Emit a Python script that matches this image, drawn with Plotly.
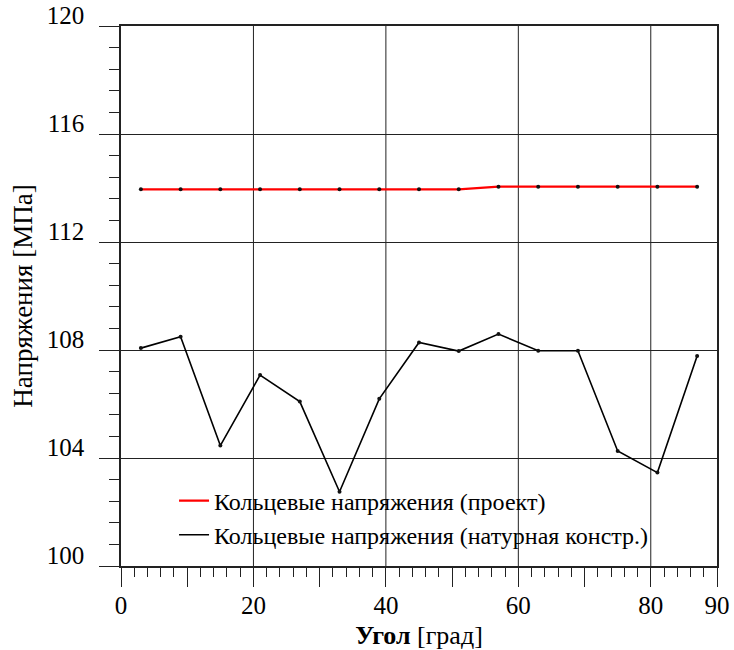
import plotly.graph_objects as go

# Angle positions, degrees
angle = [3, 9, 15, 21, 27, 33, 39, 45, 51, 57, 63, 69, 75, 81, 87]

# Hoop stress, MPa
stress_project = [113.95, 113.95, 113.95, 113.95, 113.95, 113.95, 113.95, 113.95,
                  113.95, 114.05, 114.05, 114.05, 114.05, 114.05, 114.05]
stress_actual = [108.07, 108.49, 104.46, 107.07, 106.09, 102.75, 106.19, 108.28,
                 107.96, 108.59, 107.97, 107.97, 104.26, 103.46, 107.78]

name_project = "Кольцевые напряжения (проект)"
name_actual = "Кольцевые напряжения (натурная констр.)"

x_tickvals = [0, 10, 20, 30, 40, 50, 60, 70, 80, 90]
x_ticktext = ["0", "", "20", "", "40", "", "60", "", "80", "90"]
x_gridvals = [20, 40, 60, 80]

SERIF = "Liberation Serif"
AXIS_COLOR = "#222222"

fig = go.Figure()

# Lines (shown in legend)
fig.add_trace(go.Scatter(x=angle, y=stress_project, mode="lines", name=name_project,
                         line=dict(color="#ff0000", width=2.2), legendgroup="a"))
fig.add_trace(go.Scatter(x=angle, y=stress_actual, mode="lines", name=name_actual,
                         line=dict(color="#000000", width=1.6), legendgroup="b"))
# Point markers on both curves
for ys in (stress_project, stress_actual):
    fig.add_trace(go.Scatter(x=angle, y=ys, mode="markers", showlegend=False,
                             marker=dict(color="#111111", size=4), hoverinfo="skip"))

for xv in x_gridvals:
    fig.add_vline(x=xv, line=dict(color=AXIS_COLOR, width=1), layer="below")

fig.update_layout(
    width=734, height=650,
    margin=dict(l=121, r=17, t=26, b=84, autoexpand=False),
    paper_bgcolor="white", plot_bgcolor="white",
    font=dict(family=SERIF, size=25, color="black"),
    showlegend=True,
    legend=dict(x=0.089, y=0.162, xanchor="left", yanchor="top",
                bgcolor="rgba(0,0,0,0)", borderwidth=0,
                font=dict(family=SERIF, size=24, color="black"),
                traceorder="grouped", tracegroupgap=0),
    xaxis=dict(
        range=[0, 90], tickmode="array", tickvals=x_tickvals, ticktext=x_ticktext,
        ticks="outside", ticklen=19, tickcolor=AXIS_COLOR, tickwidth=1,
        minor=dict(dtick=2, tick0=0, ticks="outside", ticklen=9,
                   tickcolor=AXIS_COLOR, showgrid=False),
        showgrid=False, zeroline=False, automargin=True,
        showline=True, linecolor=AXIS_COLOR, linewidth=1.5, mirror=True,
        tickfont=dict(family=SERIF, size=25, color="black"),
        ticklabelstandoff=-3,
        title=dict(text="<b>Угол</b> [град]", font=dict(family=SERIF, size=26, color="black"),
                   standoff=8),
    ),
    yaxis=dict(
        range=[100, 120], tick0=100, dtick=4,
        ticks="outside", ticklen=20, tickcolor=AXIS_COLOR, tickwidth=1,
        minor=dict(dtick=0.8, tick0=100, ticks="outside", ticklen=10,
                   tickcolor=AXIS_COLOR, showgrid=False),
        showgrid=True, gridcolor=AXIS_COLOR, gridwidth=1, zeroline=False, automargin=True,
        showline=True, linecolor=AXIS_COLOR, linewidth=1.5, mirror=True,
        tickfont=dict(family=SERIF, size=25, color="black"),
        ticklabelstandoff=10, ticklabelshift=-11,
        title=dict(text="Напряжения [МПа]", font=dict(family=SERIF, size=27, color="black"),
                   standoff=6),
    ),
)

fig.write_html("out.html")
